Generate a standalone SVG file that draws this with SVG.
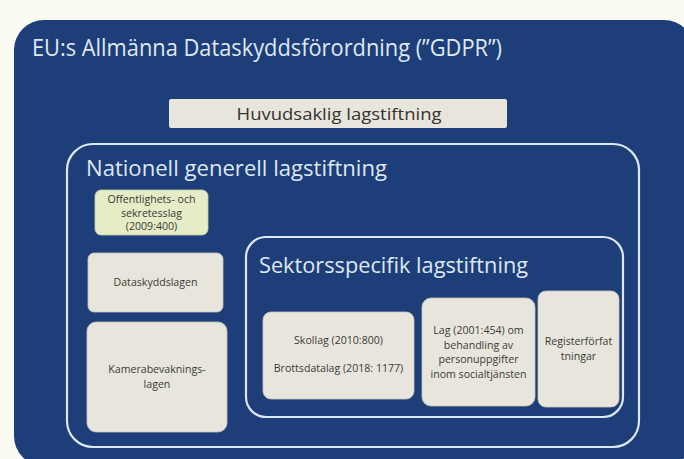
<svg xmlns="http://www.w3.org/2000/svg" width="684" height="459" viewBox="0 0 684 459">
<style>
.big{font-family:"Open Sans","Liberation Sans",sans-serif;fill:#dfe8f2}
.box{fill:#e8e6dc;stroke:#c9c7bd;stroke-width:0.8}
.frame{fill:none;stroke:#dbe7f3;stroke-width:2.2}
.sm{font-family:"Open Sans","Liberation Sans",sans-serif;font-size:10.6px;fill:#3a3a36;text-anchor:middle}
</style>
<rect width="684" height="459" fill="#fbfbf4"/>
<g id="gdpr">
<rect x="14" y="20" width="680" height="446" rx="30" fill="#1d3e78"/>
<text class="big" x="32" y="56" font-size="24" textLength="470" lengthAdjust="spacingAndGlyphs">EU:s Allmänna Dataskyddsförordning (”GDPR”)</text>
</g>
<g id="huvudsaklig">
<rect x="169" y="99" width="338" height="29" rx="2" fill="#e8e6dc"/>
<text x="339" y="120" font-family="Open Sans, Liberation Sans, sans-serif" font-size="17" fill="#333330" text-anchor="middle" textLength="205" lengthAdjust="spacingAndGlyphs">Huvudsaklig lagstiftning</text>
</g>
<g id="nationell">
<rect class="frame" x="67" y="144" width="572" height="303" rx="26"/>
<text class="big" x="86" y="176" font-size="22" textLength="301" lengthAdjust="spacingAndGlyphs">Nationell generell lagstiftning</text>
</g>
<g id="offentlighet">
<rect x="95" y="190" width="113" height="45" rx="6" fill="#e5ecc6" stroke="#c9cfa8" stroke-width="0.8"/>
<text class="sm" x="151.5" y="203" font-size="9">Offentlighets- och</text>
<text class="sm" x="151.5" y="216.5" font-size="9">sekretesslag</text>
<text class="sm" x="151.5" y="230" font-size="9">(2009:400)</text>
</g>
<g id="dataskyddslagen">
<rect class="box" x="88" y="253" width="135" height="59" rx="6"/>
<text class="sm" x="155.5" y="286">Dataskyddslagen</text>
</g>
<g id="kamera">
<rect class="box" x="87" y="322" width="140" height="110" rx="9"/>
<text class="sm" x="157" y="373">Kamerabevaknings-</text>
<text class="sm" x="157" y="388">lagen</text>
</g>
<g id="sektor">
<rect class="frame" x="246" y="237" width="377" height="180" rx="20"/>
<text class="big" x="259" y="273" font-size="22" textLength="269" lengthAdjust="spacingAndGlyphs">Sektorsspecifik lagstiftning</text>
</g>
<g id="skollag">
<rect class="box" x="263" y="312" width="151" height="87" rx="8"/>
<text class="sm" x="338.5" y="344">Skollag (2010:800)</text>
<text class="sm" x="338.5" y="372">Brottsdatalag (2018: 1177)</text>
</g>
<g id="socialtjanst">
<rect class="box" x="422" y="298" width="113" height="108" rx="9"/>
<text class="sm" x="478.5" y="334">Lag (2001:454) om</text>
<text class="sm" x="478.5" y="348.5">behandling av</text>
<text class="sm" x="478.5" y="363">personuppgifter</text>
<text class="sm" x="478.5" y="377.5">inom socialtjänsten</text>
</g>
<g id="register">
<rect class="box" x="538" y="291" width="81" height="116" rx="8"/>
<text class="sm" x="578.5" y="345">Registerförfat</text>
<text class="sm" x="578.5" y="359.5">tningar</text>
</g>
<g id="connectors"></g>
</svg>
